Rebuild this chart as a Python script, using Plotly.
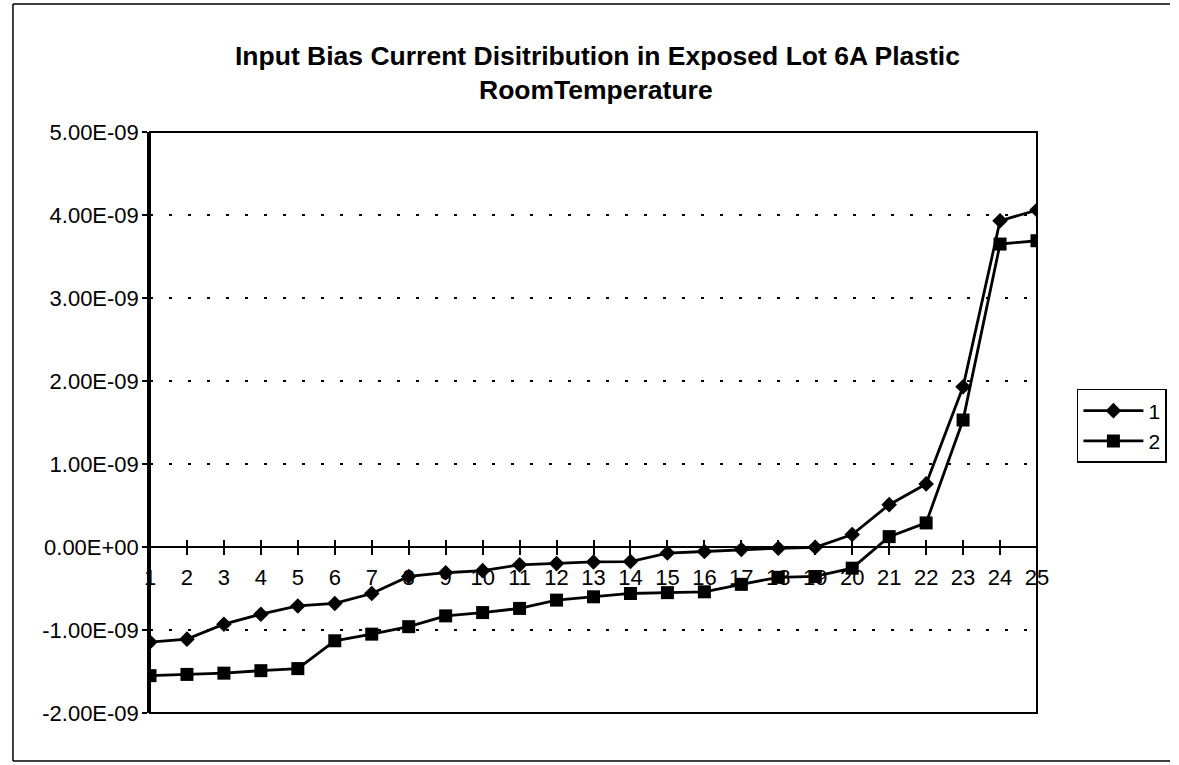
import plotly.graph_objects as go

# ---- data ----
categories = list(range(1, 26))
x_tick_labels = [str(c) for c in categories]
series1_name = "1"
series2_name = "2"
series1 = [-1.145e-9, -1.11e-9, -0.93e-9, -0.81e-9, -0.71e-9, -0.68e-9, -0.56e-9,
           -0.355e-9, -0.31e-9, -0.285e-9, -0.215e-9, -0.20e-9, -0.18e-9, -0.175e-9,
           -0.073e-9, -0.054e-9, -0.03e-9, -0.015e-9, -0.003e-9, 0.15e-9, 0.51e-9,
           0.76e-9, 1.93e-9, 3.93e-9, 4.06e-9]
series2 = [-1.55e-9, -1.535e-9, -1.52e-9, -1.49e-9, -1.465e-9, -1.13e-9, -1.05e-9,
           -0.96e-9, -0.83e-9, -0.79e-9, -0.74e-9, -0.64e-9, -0.60e-9, -0.56e-9,
           -0.55e-9, -0.54e-9, -0.45e-9, -0.365e-9, -0.355e-9, -0.255e-9, 0.125e-9,
           0.29e-9, 1.53e-9, 3.65e-9, 3.69e-9]
y_tick_values = [5e-9, 4e-9, 3e-9, 2e-9, 1e-9, 0.0, -1e-9, -2e-9]
y_tick_labels = ["5.00E-09", "4.00E-09", "3.00E-09", "2.00E-09", "1.00E-09",
                 "0.00E+00", "-1.00E-09", "-2.00E-09"]
title_line1 = "Input Bias Current Disitribution in Exposed Lot 6A Plastic"
title_line2 = "RoomTemperature"

FONT = "Arial, Liberation Sans, sans-serif"
y_min, y_max = -2e-9, 5e-9
zero_pos = (0 - y_min) / (y_max - y_min)

# outer chart frame (open on the right, as in the scan)
fx0, fx1, fy0, fy1 = -0.1545, 1.15, -0.0826, 1.2203
frame_style = dict(color="black", width=1.5)

fig = go.Figure()
fig.add_trace(go.Scatter(
    x=categories, y=series1, name=series1_name, mode="lines+markers",
    line=dict(color="black", width=2.8),
    marker=dict(symbol="diamond", size=12, color="black"),
))
fig.add_trace(go.Scatter(
    x=categories, y=series2, name=series2_name, mode="lines+markers",
    line=dict(color="black", width=2.8),
    marker=dict(symbol="square", size=13, color="black"),
))
# helper invisible trace so the inward-tick axis is drawn
fig.add_trace(go.Scatter(
    x=categories, y=series1, xaxis="x2", mode="markers",
    marker=dict(opacity=0), showlegend=False, hoverinfo="skip",
))

fig.update_layout(
    width=1179, height=765,
    margin=dict(l=150, r=136, t=132, b=52),
    paper_bgcolor="white", plot_bgcolor="white",
    font=dict(family=FONT, size=22, color="black"),
    showlegend=True,
    legend=dict(
        x=1.045, y=0.5577, xanchor="left", yanchor="top",
        bgcolor="white", bordercolor="black", borderwidth=1.5,
        font=dict(family=FONT, size=21, color="black"),
        itemwidth=60, tracegroupgap=0,
    ),
    xaxis=dict(
        range=[1, 25], tickvals=categories, ticktext=x_tick_labels,
        anchor="free", position=zero_pos,
        showline=True, linecolor="black", linewidth=1.5,
        ticks="outside", ticklen=7, tickwidth=1.5, tickcolor="black",
        showgrid=False, zeroline=False,
        ticklabelstandoff=4,
        tickfont=dict(family=FONT, size=22, color="black"),
    ),
    xaxis2=dict(
        range=[1, 25], tickvals=categories, overlaying="x",
        anchor="free", position=zero_pos,
        showline=False, ticks="inside", ticklen=7, tickwidth=1.5, tickcolor="black",
        showticklabels=False, showgrid=False, zeroline=False,
    ),
    yaxis=dict(
        range=[y_min, y_max], tickvals=y_tick_values, ticktext=y_tick_labels,
        showline=True, linecolor="black", linewidth=2.5,
        ticks="outside", ticklen=5, tickwidth=1.5, tickcolor="black",
        showgrid=True, gridcolor="black", gridwidth=1.5, griddash="3px,16px",
        zeroline=False, ticklabelstandoff=-1,
        tickfont=dict(family=FONT, size=22, color="black"),
    ),
    shapes=[
        dict(type="rect", xref="paper", yref="paper", x0=0, x1=1, y0=0, y1=1,
             line=dict(color="black", width=2), layer="above"),
        dict(type="line", xref="paper", yref="paper", x0=fx0, x1=fx0, y0=fy0, y1=fy1,
             line=frame_style),
        dict(type="line", xref="paper", yref="paper", x0=fx0, x1=fx1, y0=fy1, y1=fy1,
             line=frame_style),
        dict(type="line", xref="paper", yref="paper", x0=fx0, x1=fx1, y0=fy0, y1=fy0,
             line=frame_style),
    ],
    annotations=[
        dict(text="<b>" + title_line1 + "</b>", xref="paper", yref="paper",
             x=0.505, y=1.1308, xanchor="center", yanchor="middle", showarrow=False,
             font=dict(family=FONT, size=26.5, color="black")),
        dict(text="<b>" + title_line2 + "</b>", xref="paper", yref="paper",
             x=0.503, y=1.0723, xanchor="center", yanchor="middle", showarrow=False,
             font=dict(family=FONT, size=26.5, color="black")),
    ],
)

fig.write_html("out.html", config={"displayModeBar": False},
               post_script="document.body.style.margin='0px';document.body.style.overflow='hidden';")
